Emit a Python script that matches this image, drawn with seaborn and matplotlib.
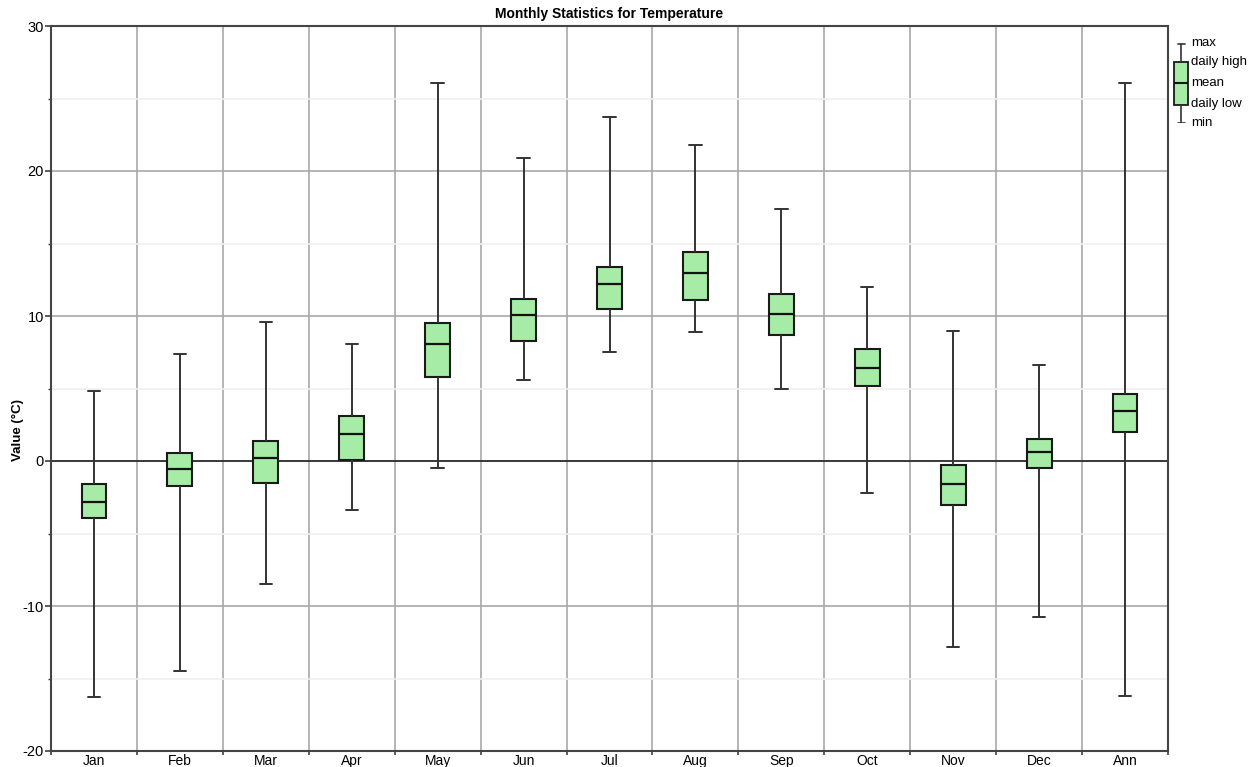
import numpy as np
import pandas as pd
import matplotlib
matplotlib.use("Agg")
import matplotlib.pyplot as plt
import seaborn as sns
from matplotlib.ticker import MultipleLocator, FixedLocator

# Monthly temperature statistics (°C)
periods = ["Jan", "Feb", "Mar", "Apr", "May", "Jun", "Jul",
           "Aug", "Sep", "Oct", "Nov", "Dec", "Ann"]
t_max = [4.8, 7.4, 9.6, 8.1, 26.1, 20.9, 23.7, 21.8, 17.4, 12.0, 9.0, 6.6, 26.1]
daily_high = [-1.6, 0.55, 1.4, 3.1, 9.5, 11.2, 13.4, 14.4, 11.55, 7.7, -0.3, 1.55, 4.6]
t_mean = [-2.8, -0.55, 0.2, 1.85, 8.1, 10.1, 12.2, 13.0, 10.15, 6.4, -1.6, 0.6, 3.45]
daily_low = [-3.9, -1.7, -1.5, 0.05, 5.8, 8.3, 10.5, 11.1, 8.7, 5.2, -3.05, -0.5, 2.0]
t_min = [-16.3, -14.45, -8.5, -3.4, -0.5, 5.6, 7.5, 8.9, 5.0, -2.2, -12.8, -10.75, -16.2]

# Legend glyph levels (relative heights)
legend_labels = ["min", "daily low", "mean", "daily high", "max"]
legend_levels = [0, 18, 40, 61, 79]

# Five statistics per period: with whis=(0, 100) the boxplot shows
# min/max as whisker ends, daily low/high as the box and mean as the centre line
rows = []
for i, p in enumerate(periods):
    for v in (t_min[i], daily_low[i], t_mean[i], daily_high[i], t_max[i]):
        rows.append({"period": p, "value": v})
df = pd.DataFrame(rows)

sns.set_style("white")
plt.rcParams["font.family"] = ["Liberation Sans", "DejaVu Sans"]
plt.rcParams["axes.unicode_minus"] = False
plt.rcParams["text.color"] = "black"

W, H = 1255, 767
fig = plt.figure(figsize=(W / 100, H / 100), dpi=100)
fig.patch.set_facecolor("white")
ax = fig.add_axes([51 / W, 16 / H, 1117 / W, 725 / H])
ax.set_facecolor("white")

box_color = "#a6eba6"
line_kw = dict(color="#333333", linewidth=1.4)
sns.boxplot(
    data=df, x="period", y="value", order=periods, whis=(0, 100),
    width=0.29, color=box_color, saturation=1, linecolor="#1a1a1a",
    linewidth=1.5, ax=ax,
    medianprops=dict(color="#111111", linewidth=1.6),
    whiskerprops=line_kw, capprops=line_kw,
)

# Axis ranges and ticks
ax.set_xlim(-0.5, len(periods) - 0.5)
ax.set_ylim(-20, 30)
ax.yaxis.set_major_locator(MultipleLocator(10))
ax.yaxis.set_minor_locator(MultipleLocator(5))
ax.xaxis.set_minor_locator(FixedLocator(np.arange(-0.5, len(periods), 1.0)))

ax.set_axisbelow(True)
ax.xaxis.grid(True, which="minor", color="#a8a8a8", linewidth=1.2)
ax.xaxis.grid(False, which="major")
ax.yaxis.grid(True, which="major", color="#a8a8a8", linewidth=1.2)
ax.yaxis.grid(True, which="minor", color="#f0f0f0", linewidth=1.2)
ax.axhline(0, color="#303030", linewidth=1.3, zorder=1)

ax.tick_params(axis="x", which="major", length=0, pad=2, labelsize=10, colors="black")
ax.tick_params(axis="x", which="minor", length=3, width=1.2, direction="out", color="#404040")
ax.tick_params(axis="y", which="major", length=4, width=1.2, direction="out",
               pad=1, labelsize=10.5, color="#404040", labelcolor="black")
ax.tick_params(axis="y", which="minor", length=2, width=1.0, direction="out", color="#404040")
ax.tick_params(left=True, bottom=True, which="both")

for s in ax.spines.values():
    s.set_visible(True)
    s.set_color("#444444")
    s.set_linewidth(1.5)

ax.set_xlabel("")
ax.set_ylabel("")
fig.text((51 + 1117 / 2) / W, 1 - 14 / H, "Monthly Statistics for Temperature",
         ha="center", va="center", fontsize=10, fontweight="bold", color="black")
fig.text(18 / W, 1 - 430 / H, "Value (°C)", rotation=90, ha="center", va="center",
         fontsize=9.5, fontweight="bold", color="black")

# Legend glyph to the right of the plot
lax = fig.add_axes([1171 / W, 1 - 123 / H, 20 / W, 80 / H])
sns.boxplot(y=legend_levels, whis=(0, 100), width=0.7, color=box_color,
            saturation=1, linecolor="#1a1a1a", linewidth=1.3, ax=lax,
            medianprops=dict(color="#111111", linewidth=1.5),
            whiskerprops=dict(color="#333333", linewidth=1.2),
            capprops=dict(color="#333333", linewidth=1.2))
lax.set_ylim(-0.5, 79.5)
lax.axis("off")
for lbl, lvl in zip(legend_labels, legend_levels):
    lax.text(1.0, lvl, lbl, transform=lax.get_yaxis_transform(),
             ha="left", va="center", fontsize=9.5, color="black")

fig.savefig("out.png", dpi=100, facecolor="white")
